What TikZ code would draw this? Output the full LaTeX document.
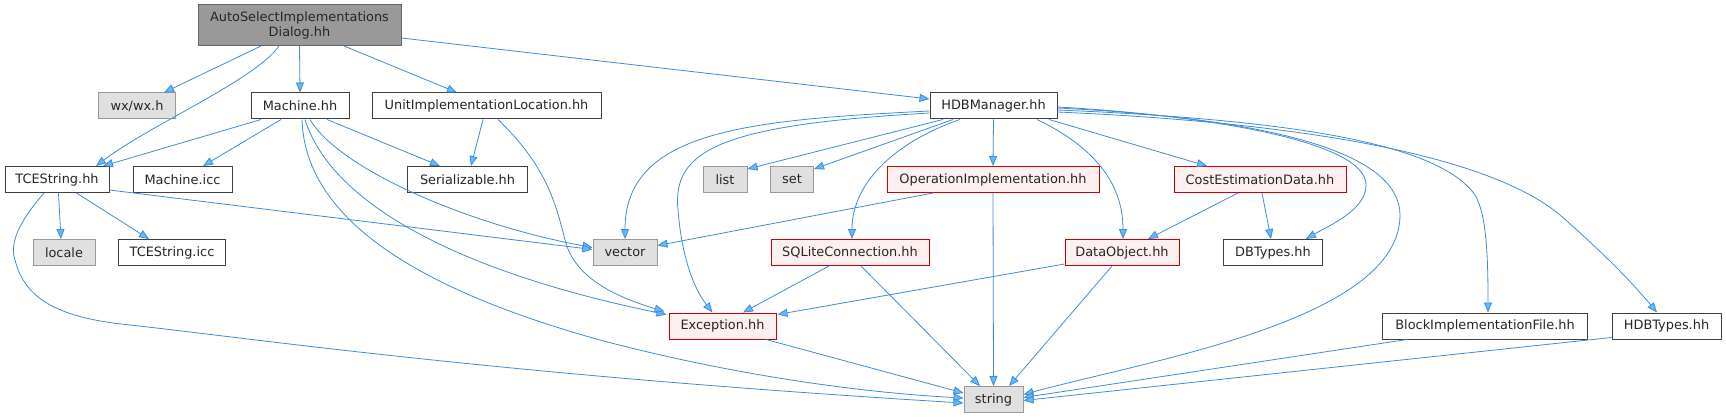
\documentclass[tikz,border=0pt]{standalone}
\usepackage{fontspec}
\setmainfont{DejaVu Sans}
\usetikzlibrary{arrows.meta,calc}
\definecolor{edgec}{HTML}{3F8CD6}
\definecolor{tipc}{HTML}{63B8FF}
\definecolor{mainfill}{HTML}{999999}
\definecolor{maindraw}{HTML}{666666}
\definecolor{sysfill}{HTML}{E0E0E0}
\definecolor{sysdraw}{HTML}{999999}
\definecolor{plaindraw}{HTML}{404040}
\definecolor{redfill}{HTML}{FFF0F0}
\definecolor{reddraw}{HTML}{CC0000}
\begin{document}
\begin{tikzpicture}[x=1pt,y=-1pt,
  box/.style={draw, line width=1pt, inner sep=0pt, minimum height=26pt, font=\fontsize{12.9}{15}\selectfont, text=black!85},
  mainbox/.style={box, fill=mainfill, draw=maindraw},
  sysbox/.style={box, fill=sysfill, draw=sysdraw},
  plainbox/.style={box, fill=white, draw=plaindraw},
  redbox/.style={box, fill=redfill, draw=reddraw},
  edge/.style={draw=edgec, line width=0.8pt, -{Triangle[length=10pt,width=8pt,fill=tipc]}}
]
\useasboundingbox (0,0) rectangle (1726,417);
\fill[white] (0,0) rectangle (1726,417);

% nodes
\node[mainbox, minimum width=203pt, minimum height=41pt, align=center] (A) at (299.5,25) {AutoSelectImplementations\\Dialog.hh};
\node[sysbox, minimum width=77pt] (wx) at (137,106) {wx/wx.h};
\node[plainbox, minimum width=98pt] (machine) at (300,106) {Machine.hh};
\node[plainbox, minimum width=229pt] (unit) at (486.5,106) {UnitImplementationLocation.hh};
\node[plainbox, minimum width=127pt] (hdbm) at (993.5,106) {HDBManager.hh};
\node[plainbox, minimum width=104pt] (tces) at (57,179.5) {TCEString.hh};
\node[plainbox, minimum width=99pt] (micc) at (182.5,179.5) {Machine.icc};
\node[plainbox, minimum width=120pt] (ser) at (467.5,179.5) {Serializable.hh};
\node[sysbox, minimum width=44pt] (list) at (725,179.5) {list};
\node[sysbox, minimum width=43pt] (set) at (792,179.5) {set};
\node[redbox, minimum width=212pt] (opimpl) at (993,179.5) {OperationImplementation.hh};
\node[redbox, minimum width=172pt] (cost) at (1260,179.5) {CostEstimationData.hh};
\node[sysbox, minimum width=62pt] (locale) at (64,252.5) {locale};
\node[plainbox, minimum width=107pt] (ticc) at (172,252.5) {TCEString.icc};
\node[sysbox, minimum width=64pt] (vector) at (625,252.5) {vector};
\node[redbox, minimum width=158pt] (sqlite) at (850,252.5) {SQLiteConnection.hh};
\node[redbox, minimum width=114pt] (dataobj) at (1122,252.5) {DataObject.hh};
\node[plainbox, minimum width=99pt] (dbtypes) at (1273,252.5) {DBTypes.hh};
\node[redbox, minimum width=107pt] (exc) at (722.5,326) {Exception.hh};
\node[plainbox, minimum width=205pt] (block) at (1485,326) {BlockImplementationFile.hh};
\node[plainbox, minimum width=109pt] (hdbtypes) at (1666.5,326) {HDBTypes.hh};
\node[sysbox, minimum width=59pt] (string) at (993.5,399.5) {string};

% edges from AutoSelect
\draw[edge] ($(A.south)+(-38.5,0)$) -- ($(wx.north)+(27,0)$);
\draw[edge] ($(A.south)+(-20.5,0)$) .. controls (255,80) and (150,125) .. ($(tces.north)+(39,0)$);
\draw[edge] (A.south) -- (machine.north);
\draw[edge] ($(A.south)+(44.5,0)$) -- ($(unit.north)+(-29.5,0)$);
\draw[edge] ($(A.east)+(0,13)$) -- ($(hdbm.west)+(0,-7)$);

% edges from Machine
\draw[edge] ($(machine.south)+(-39,0)$) -- ($(tces.north)+(46,0)$);
\draw[edge] ($(machine.south)+(-19,0)$) -- ($(micc.north)+(20.5,0)$);
\draw[edge] ($(machine.south)+(27,0)$) -- ($(ser.north)+(-27.5,0)$);
\draw[edge] ($(machine.south)+(2,0)$) .. controls (305,220) and (420,290) .. (600,340) .. controls (720,372) and (850,392) .. ($(string.west)+(0,-1.5)$);
\draw[edge] ($(machine.south)+(5,0)$) .. controls (330,200) and (450,270) .. ($(exc.north west)+(-2,2)$);
\draw[edge] ($(machine.south)+(10,0)$) .. controls (340,170) and (470,225) .. ($(vector.west)+(0,-5)$);

% edges from UnitImplementationLocation
\draw[edge] ($(unit.south)+(-3.5,0)$) -- ($(ser.north)+(3.5,0)$);
\draw[edge] ($(unit.south)+(11.5,0)$) .. controls (545,165) and (555,200) .. (565,240) .. controls (575,280) and (620,298) .. ($(exc.north west)+(-4,-1)$);

% edges from TCEString
\draw[edge] ($(tces.south east)+(0,-3)$) -- ($(vector.west)+(0,-3)$);
\draw[edge] ($(tces.south)+(1.5,0)$) -- ($(locale.north)+(-3,0)$);
\draw[edge] ($(tces.south)+(19.5,0)$) -- ($(ticc.north)+(-23,0)$);
\draw[edge] ($(tces.south)+(-13,0)$) .. controls (25,215) and (8,240) .. (15,260) .. controls (25,300) and (60,318) .. (130,325) .. controls (250,338) and (500,375) .. ($(string.west)+(0,3.5)$);

% edges from HDBManager
\draw[edge] ($(hdbm.west)+(0,5)$) .. controls (750,120) and (625,130) .. (vector.north);
\draw[edge] ($(hdbm.west)+(0,7)$) .. controls (720,125) and (672,150) .. (678,210) .. controls (682,260) and (695,290) .. ($(exc.north)+(-10,0)$);
\draw[edge] ($(hdbm.south)+(-50.5,0)$) -- ($(list.north east)+(0,3)$);
\draw[edge] ($(hdbm.south)+(-40.5,0)$) -- ($(set.north east)+(0,3)$);
\draw[edge] ($(hdbm.south)+(-33.5,0)$) .. controls (900,140) and (852,180) .. ($(sqlite.north)+(2,0)$);
\draw[edge] (hdbm.south) -- (opimpl.north);
\draw[edge] ($(hdbm.south)+(43.5,0)$) .. controls (1090,145) and (1123,180) .. ($(dataobj.north)+(1,0)$);
\draw[edge] ($(hdbm.south)+(55.5,0)$) -- ($(cost.north)+(-53,0)$);
\draw[edge] ($(hdbm.east)+(0,1)$) .. controls (1200,115) and (1366,140) .. (1366,185) .. controls (1366,210) and (1330,225) .. ($(dbtypes.north)+(33,0)$);
\draw[edge] ($(hdbm.east)+(0,2)$) .. controls (1300,120) and (1400,160) .. (1400,215) .. controls (1400,320) and (1150,360) .. ($(string.east)+(0,-5)$);
\draw[edge] ($(hdbm.east)+(0,4)$) .. controls (1300,120) and (1440,145) .. (1475,195) .. controls (1487,215) and (1488,260) .. ($(block.north)+(3,0)$);
\draw[edge] ($(hdbm.east)+(0,6)$) .. controls (1350,125) and (1500,165) .. (1560,215) .. controls (1600,250) and (1630,280) .. ($(hdbtypes.north)+(-9.5,0)$);

% other edges
\draw[edge] ($(opimpl.south)+(-60,0)$) -- ($(vector.east)+(0,-7)$);
\draw[edge] (opimpl.south) -- (string.north);
\draw[edge] ($(sqlite.south)+(-21,0)$) -- ($(exc.north)+(20.5,0)$);
\draw[edge] ($(sqlite.south)+(11,0)$) -- ($(string.north)+(-13.5,0)$);
\draw[edge] ($(dataobj.south west)+(0,-2)$) -- ($(exc.north east)+(1,2)$);
\draw[edge] ($(dataobj.south)+(-10,0)$) -- ($(string.north)+(15.5,0)$);
\draw[edge] ($(cost.south)+(-22,0)$) -- ($(dataobj.north)+(26,0)$);
\draw[edge] ($(cost.south)+(2,0)$) -- ($(dbtypes.north)+(-2,0)$);
\draw[edge] ($(exc.south)+(43.5,0)$) -- ($(string.west)+(0,-6.5)$);
\draw[edge] ($(block.south)+(-78,0)$) -- ($(string.east)+(0,-2)$);
\draw[edge] ($(hdbtypes.south west)+(0,-2)$) -- ($(string.east)+(0,1)$);
\end{tikzpicture}
\end{document}
